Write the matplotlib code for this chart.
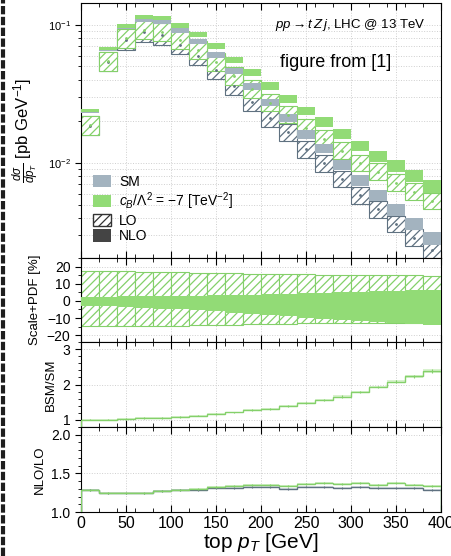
import numpy as np
import matplotlib.pyplot as plt
from matplotlib.patches import Patch
from matplotlib.lines import Line2D
from matplotlib.ticker import MultipleLocator, LogLocator, NullFormatter

plt.rcParams['font.family'] = ['Liberation Sans', 'DejaVu Sans']
plt.rcParams['mathtext.fontset'] = 'custom'
plt.rcParams['mathtext.rm'] = 'Liberation Sans'
plt.rcParams['mathtext.it'] = 'Liberation Sans:italic'
plt.rcParams['mathtext.bf'] = 'Liberation Sans:bold'
plt.rcParams['hatch.linewidth'] = 0.9

# top pT bins [GeV]
edges = np.arange(0, 420, 20)
centers = edges[:-1] + 10

# BSM (c/Lambda^2 = -7) NLO central values [pb/GeV]
bsm_nlo = [0.0241, 0.0679, 0.0992, 0.1147, 0.1133, 0.100, 0.0859, 0.0713, 0.0570, 0.0462,
           0.0369, 0.0299, 0.0245, 0.0205, 0.0167, 0.0138, 0.01164, 0.00984, 0.00841, 0.0071]
# BSM/SM ratio
bsm_sm = [1.01, 1.01, 1.03, 1.05, 1.06, 1.09, 1.12, 1.16, 1.21, 1.27,
          1.32, 1.38, 1.47, 1.56, 1.66, 1.79, 1.93, 2.08, 2.23, 2.38]
# NLO/LO k-factors
k_bsm = [1.29, 1.245, 1.245, 1.245, 1.275, 1.29, 1.30, 1.32, 1.34, 1.345,
         1.353, 1.34, 1.36, 1.375, 1.36, 1.38, 1.35, 1.37, 1.355, 1.34]
k_sm = [1.28, 1.24, 1.24, 1.24, 1.27, 1.28, 1.29, 1.31, 1.31, 1.32,
        1.32, 1.30, 1.33, 1.32, 1.315, 1.32, 1.31, 1.31, 1.31, 1.28]
# scale+PDF uncertainties [%]
lo_up = [17.6, 17.4, 17.2, 17.0, 16.8, 16.6, 16.4, 16.2, 16.0, 15.9,
         15.7, 15.5, 15.4, 15.3, 15.2, 15.1, 15.0, 14.9, 14.8, 14.7]
lo_dn = [-14.9, -14.8, -14.7, -14.6, -14.5, -14.4, -14.2, -14.0, -13.8, -13.6,
         -13.4, -13.3, -13.2, -13.1, -13.0, -13.0, -12.9, -12.9, -12.8, -12.8]
nlo_up = [2.5, 2.5, 2.6, 2.7, 2.8, 2.9, 3.0, 3.2, 3.4, 3.6,
          3.8, 4.1, 4.4, 4.7, 5.0, 5.3, 5.6, 5.9, 6.1, 6.3]
nlo_dn = [-2.9, -3.2, -3.6, -4.0, -4.5, -5.0, -5.5, -6.1, -6.8, -7.5,
          -8.2, -9.0, -9.8, -10.5, -11.2, -11.9, -12.5, -13.1, -13.7, -14.3]

bsm_nlo = np.array(bsm_nlo)
sm_nlo = bsm_nlo / np.array(bsm_sm)
bsm_lo = bsm_nlo / np.array(k_bsm)
sm_lo = sm_nlo / np.array(k_sm)
lu, ld = 1 + np.array(lo_up) / 100, 1 + np.array(lo_dn) / 100
nu, nd = 1 + np.array(nlo_up) / 100, 1 + np.array(nlo_dn) / 100

g_solid, g_edge = '#92db76', '#84d06a'
s_solid, s_edge = '#a3b3bf', '#5f7180'
grid_kw = dict(color='#cfcfcf', linestyle=':', linewidth=0.7)

fig = plt.figure(figsize=(4.51, 5.56), dpi=100)
L, W = 81 / 451, 360 / 451
def box(top, bot):
    return [L, 1 - bot / 556, W, (bot - top) / 556]
ax0 = fig.add_axes(box(3, 258))
ax1 = fig.add_axes(box(258, 342), sharex=ax0)
ax2 = fig.add_axes(box(342, 427), sharex=ax0)
ax3 = fig.add_axes(box(427, 512), sharex=ax0)

# main panel
ax0.set_yscale('log')
ax0.bar(centers, sm_lo * (lu - ld), bottom=sm_lo * ld, width=20, facecolor='white',
        edgecolor=s_edge, hatch='////', linewidth=0.8, zorder=2)
ax0.bar(centers, bsm_lo * (lu - ld), bottom=bsm_lo * ld, width=20, facecolor='white',
        edgecolor=g_edge, hatch='////', linewidth=0.8, zorder=2)
ax0.bar(centers, sm_nlo * (nu - nd), bottom=sm_nlo * nd, width=20, color=s_solid,
        linewidth=0, zorder=3)
ax0.bar(centers, bsm_nlo * (nu - nd), bottom=bsm_nlo * nd, width=20, color=g_solid,
        linewidth=0, zorder=3)
ax0.plot(centers, sm_lo, '.', ms=2, color=s_edge, zorder=4)
ax0.plot(centers, bsm_lo, '.', ms=2, color=g_edge, zorder=4)
ax0.set_ylim(2.05e-3, 0.144)
ax0.yaxis.set_major_locator(LogLocator(base=10))
ax0.yaxis.set_minor_locator(LogLocator(base=10, subs=np.arange(2, 10)))
ax0.yaxis.set_minor_formatter(NullFormatter())
ax0.grid(True, which='both', axis='y', **grid_kw)
ax0.grid(True, which='major', axis='x', **grid_kw)
ax0.set_ylabel(r'$\frac{d\sigma}{dp_T}$ [pb GeV$^{-1}$]', fontsize=12, labelpad=4)
ax0.text(0.956, 0.915, r'$pp \rightarrow t\,Z\,j$, LHC @ 13 TeV', transform=ax0.transAxes,
         ha='right', va='center', fontsize=9.5)
ax0.text(0.708, 0.765, 'figure from [1]', transform=ax0.transAxes,
         ha='center', va='center', fontsize=13)
handles = [Patch(facecolor=s_solid, edgecolor='none'),
           Patch(facecolor=g_solid, edgecolor='none'),
           Patch(facecolor='white', edgecolor='#333333', hatch='////'),
           Patch(facecolor='#444444', edgecolor='none')]
labels = ['SM', r'$c_{B}/\Lambda^2$ = $-7$ [TeV$^{-2}$]', 'LO', 'NLO']
ax0.legend(handles, labels, loc='upper left', bbox_to_anchor=(0.005, 0.365), frameon=False,
           fontsize=10, handlelength=1.3, handleheight=1.0, labelspacing=0.12,
           handletextpad=0.6, borderaxespad=0.3)

# scale + PDF panel
ax1.bar(centers, np.array(lo_up) - np.array(lo_dn), bottom=lo_dn, width=20, facecolor='white',
        edgecolor=g_edge, hatch='////', linewidth=0.8, zorder=2)
ax1.bar(centers, np.array(nlo_up) - np.array(nlo_dn), bottom=nlo_dn, width=20,
        color=g_solid, linewidth=0, zorder=3)
ax1.set_ylim(-24, 25)
ax1.yaxis.set_major_locator(MultipleLocator(10))
ax1.yaxis.set_minor_locator(MultipleLocator(5))
ax1.grid(True, which='major', **grid_kw)
ax1.set_ylabel('Scale+PDF [%]', fontsize=9.5)

# BSM/SM panel
r = np.array(bsm_sm)
ax2.stairs(r * 1.02, edges, baseline=r * 0.98, fill=True, color=g_solid, alpha=0.35, zorder=2)
ax2.stairs(r, edges, color=g_edge, linewidth=1.0, zorder=3)
ax2.errorbar(centers, r, yerr=r * 0.02, fmt='none', ecolor=g_edge, elinewidth=0.8, zorder=3)
ax2.set_ylim(0.8, 3.2)
ax2.yaxis.set_major_locator(MultipleLocator(1))
ax2.yaxis.set_minor_locator(MultipleLocator(0.2))
ax2.grid(True, which='major', **grid_kw)
ax2.set_ylabel('BSM/SM', fontsize=9.5)

# NLO/LO panel
for k, c, e in [(k_sm, s_solid, s_edge), (k_bsm, g_solid, g_edge)]:
    k = np.array(k)
    ax3.stairs(k + 0.012, edges, baseline=k - 0.012, fill=True, color=c, alpha=0.4, zorder=2)
    ax3.stairs(k, edges, color=e, linewidth=1.0, zorder=3)
    ax3.errorbar(centers, k, yerr=0.012, fmt='none', ecolor=e, elinewidth=0.8, zorder=3)
ax3.set_ylim(1.0, 2.1)
ax3.yaxis.set_major_locator(MultipleLocator(0.5))
ax3.yaxis.set_minor_locator(MultipleLocator(0.1))
ax3.yaxis.set_major_formatter(plt.FormatStrFormatter('%.1f'))
ax3.grid(True, which='major', **grid_kw)
ax3.set_ylabel('NLO/LO', fontsize=9.5)
ax3.set_xlabel(r'top $p_T$ [GeV]', fontsize=15, labelpad=0)

ax3.set_xlim(0, 400)
ax3.xaxis.set_major_locator(MultipleLocator(50))
ax3.xaxis.set_minor_locator(MultipleLocator(20))
for ax in (ax0, ax1, ax2, ax3):
    ax.tick_params(axis='x', which='both', direction='in', top=True, bottom=True)
    ax.tick_params(axis='x', which='major', length=5)
    ax.tick_params(axis='x', which='minor', length=3)
    ax.tick_params(axis='y', which='major', direction='out', length=4, labelsize=10)
    ax.tick_params(axis='y', which='minor', direction='out', length=2)
    if ax is not ax3:
        ax.tick_params(axis='x', labelbottom=False)
ax0.tick_params(axis='y', which='major', labelsize=8)
ax3.tick_params(axis='x', labelsize=11.5, pad=3)
fig.align_ylabels([ax1, ax2, ax3])

# dashed page border on the left
fig.add_artist(Line2D([0.006, 0.006], [0, 1], transform=fig.transFigure, color='#1e1e1e',
                      linewidth=3.0, linestyle=(0, (2.0, 0.6))))

fig.savefig('out.png', dpi=100)
